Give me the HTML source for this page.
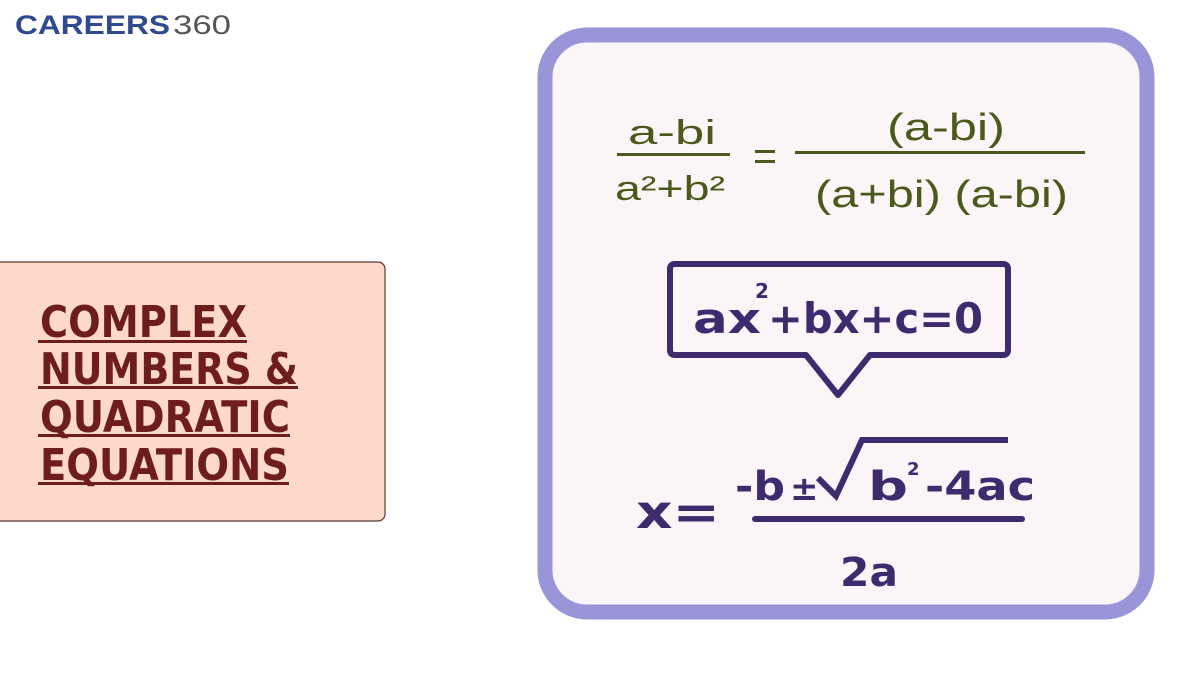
<!DOCTYPE html>
<html><head><meta charset="utf-8"><style>
html,body{margin:0;padding:0;background:#fff;width:1200px;height:675px;overflow:hidden}
svg{display:block}
</style></head><body>
<svg width="1200" height="675" viewBox="0 0 1200 675" xmlns="http://www.w3.org/2000/svg">
<rect width="1200" height="675" fill="#fff"/>
<text x="15" y="34" font-family="Liberation Sans, sans-serif" font-weight="bold" font-size="27" fill="#2f4a8f" textLength="155" lengthAdjust="spacingAndGlyphs">CAREERS</text>
<text x="173" y="34" font-family="Liberation Sans, sans-serif" font-size="27" fill="#555" textLength="58" lengthAdjust="spacingAndGlyphs">360</text>

<rect x="-8" y="262" width="393" height="259" rx="7" fill="#fdd8cd" stroke="#5a3a30" stroke-width="1.2"/>
<g font-family="DejaVu Sans, Liberation Sans, sans-serif" font-weight="bold" font-size="44" fill="#6e1d1f">
<text x="40" y="337" textLength="207" lengthAdjust="spacingAndGlyphs">COMPLEX</text>
<text x="40" y="384" textLength="258" lengthAdjust="spacingAndGlyphs">NUMBERS &amp;</text>
<text x="40" y="432" textLength="250" lengthAdjust="spacingAndGlyphs">QUADRATIC</text>
<text x="40" y="480" textLength="249" lengthAdjust="spacingAndGlyphs">EQUATIONS</text>
</g>
<g fill="#6e1d1f">
<rect x="38" y="340" width="209" height="3"/>
<rect x="38" y="386" width="260" height="3"/>
<rect x="38" y="434" width="252" height="3"/>
<rect x="38" y="482" width="251" height="3"/>
</g>

<rect x="545" y="35" width="602" height="577" rx="42" fill="#fcf5f7" stroke="#9896d8" stroke-width="15"/>

<g font-family="Liberation Sans, sans-serif" fill="#4b5a1c">
<text x="628" y="144" font-size="34" textLength="88" lengthAdjust="spacingAndGlyphs">a-bi</text>
<rect x="617" y="153" width="113" height="3"/>
<text x="615" y="200" font-size="34" textLength="110" lengthAdjust="spacingAndGlyphs">a²+b²</text>
<rect x="755" y="150" width="20" height="3"/><rect x="755" y="160" width="20" height="3"/>
<text x="887" y="140" font-size="38" textLength="118" lengthAdjust="spacingAndGlyphs">(a-bi)</text>
<rect x="795" y="151" width="290" height="3"/>
<text x="815" y="207" font-size="38" textLength="253" lengthAdjust="spacingAndGlyphs">(a+bi) (a-bi)</text>
</g>

<g fill="#3f2a6e" font-family="DejaVu Sans, Liberation Sans, sans-serif" font-weight="bold">
<path d="M675 264 H1003 Q1008 264 1008 269 V350 Q1008 355 1003 355 H870 L838 395 L806 355 H675 Q670 355 670 350 V269 Q670 264 675 264 Z" fill="none" stroke="#3f2a6e" stroke-width="6" stroke-linejoin="round"/>
<text x="693" y="333" font-size="42" textLength="68" lengthAdjust="spacingAndGlyphs">ax</text>
<text x="755" y="298" font-size="20">2</text>
<text x="768" y="333" font-size="42" textLength="215" lengthAdjust="spacingAndGlyphs">+bx+c=0</text>

<text x="636" y="528" font-size="46" textLength="84" lengthAdjust="spacingAndGlyphs">x=</text>
<text x="735" y="500" font-size="40" textLength="50" lengthAdjust="spacingAndGlyphs">-b</text>
<text x="790" y="500" font-size="34">±</text>
<path d="M818 478 L836 496 L862 440 H1008" fill="none" stroke="#3f2a6e" stroke-width="6"/>
<text x="868" y="500" font-size="40" textLength="40" lengthAdjust="spacingAndGlyphs">b</text>
<text x="907" y="475" font-size="18">2</text>
<text x="925" y="500" font-size="40" textLength="110" lengthAdjust="spacingAndGlyphs">-4ac</text>
<rect x="752" y="516" width="273" height="6" rx="3"/>
<text x="840" y="586" font-size="40" textLength="58" lengthAdjust="spacingAndGlyphs">2a</text>
</g>
</svg>
</body></html>
